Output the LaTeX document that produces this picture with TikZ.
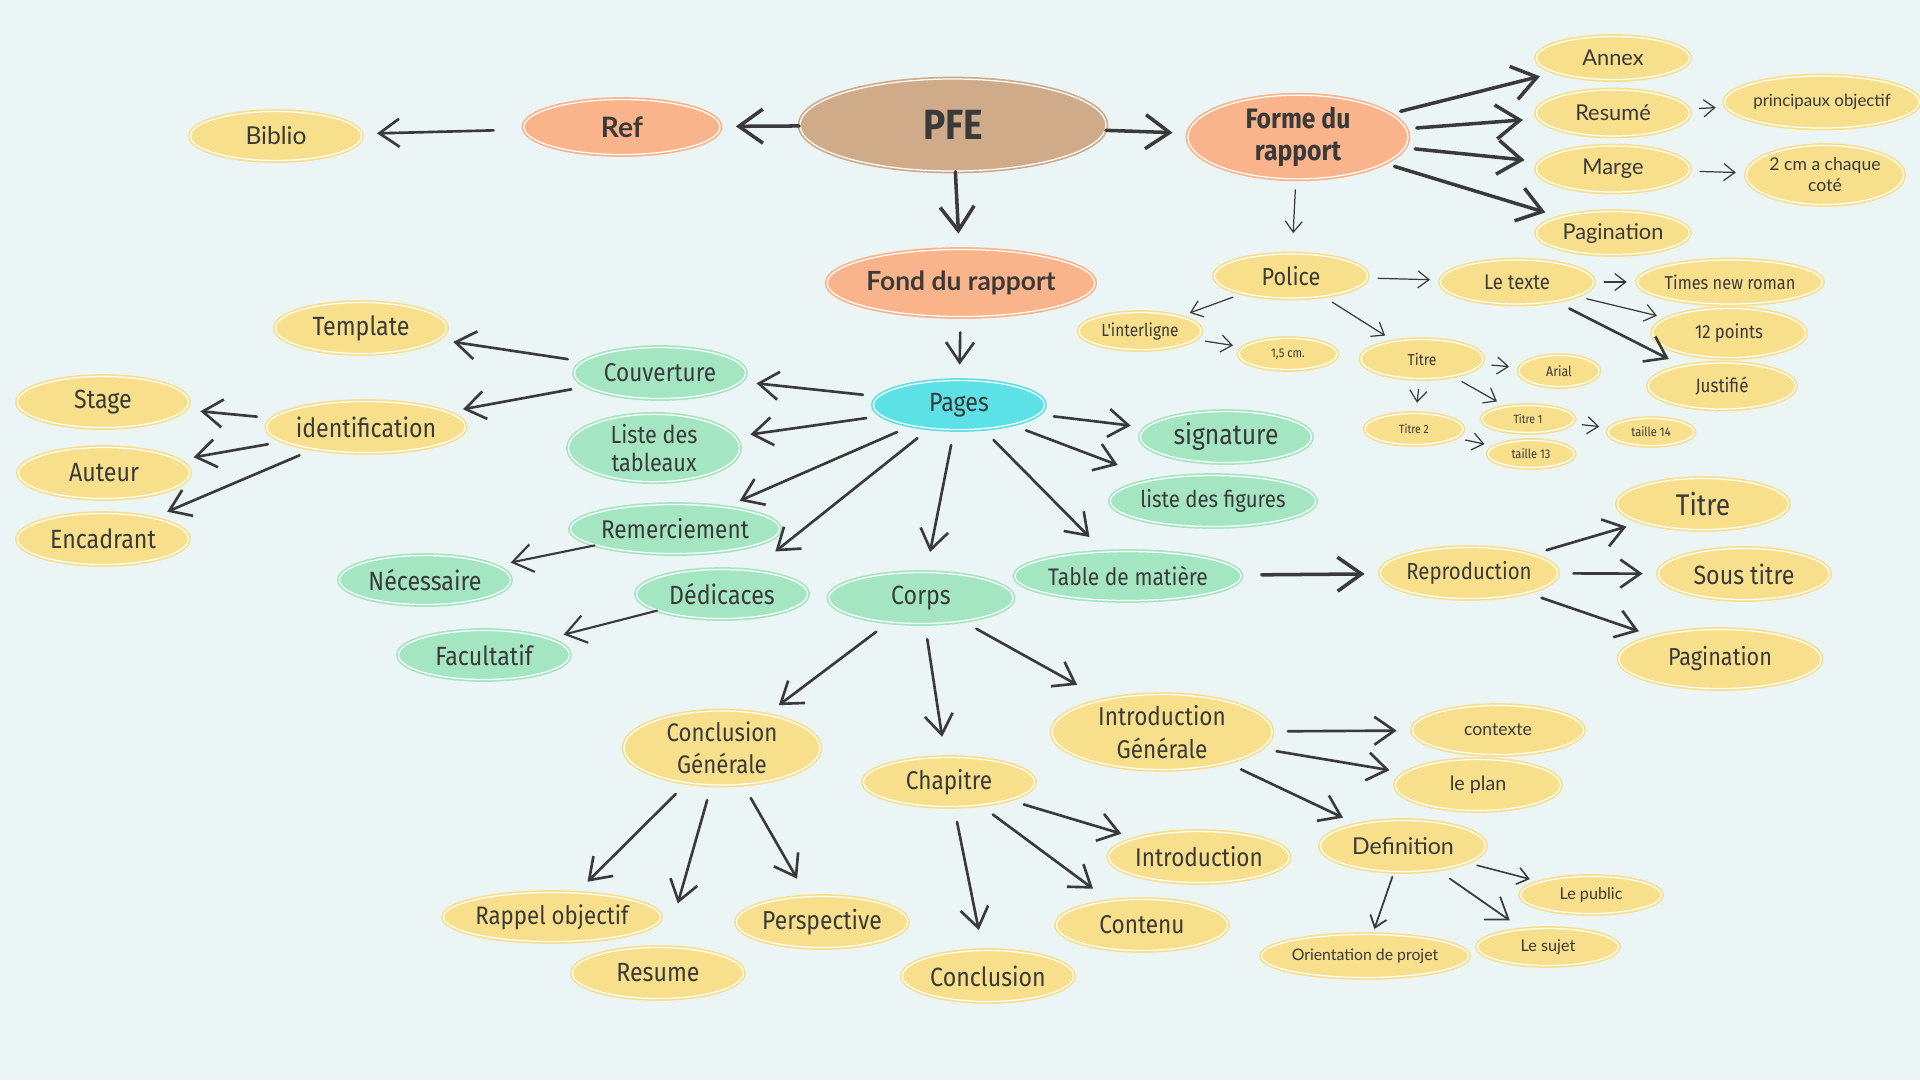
\documentclass[tikz,border=0pt]{standalone}
\usepackage{fontspec}
\setmainfont{Lato}
\newfontfamily\narrow[FakeStretch=0.88]{Fira Sans}
\usetikzlibrary{shapes.geometric,arrows.meta}
\definecolor{bgc}{HTML}{ECF5F5}
\definecolor{tan}{HTML}{CFAB8A}
\definecolor{sal}{HTML}{F9B48B}
\definecolor{yel}{HTML}{F7DF8B}
\definecolor{grn}{HTML}{A4E5C2}
\definecolor{cya}{HTML}{5CE1E6}
\definecolor{ink}{HTML}{3A3A3A}
\begin{document}
\begin{tikzpicture}[x=0.1mm,y=-0.1mm,line cap=round,
  bub/.style={ellipse,fill=#1,draw=#1,double=white,line width=.5pt,double distance=.35pt,inner sep=0pt,text=ink,align=center},
  sz/.style 2 args={minimum width=#1*0.1mm,minimum height=#2*0.1mm},
  fn/.style={font=\narrow\fontsize{#1}{#1}\selectfont},
  fr/.style={font=\fontsize{#1}{#1}\selectfont},
  fb/.style={font=\bfseries\fontsize{#1}{#1}\selectfont},
  fnb/.style={font=\narrow\bfseries\fontsize{#1}{#1}\selectfont},
  arrthick/.style={-{Straight Barb[length=2.4mm,width=3.4mm]},draw=ink,line width=1pt,shorten <=1mm,shorten >=1.5mm},
  arrmid/.style={-{Straight Barb[length=2mm,width=2.8mm]},draw=ink,line width=.75pt,shorten <=1.5mm,shorten >=1.5mm},
  arrthin/.style={-{Straight Barb[length=1.1mm,width=1.7mm]},draw=ink,line width=.35pt,shorten <=1mm,shorten >=1mm}]
  \fill[bgc] (0,0) rectangle (1920,1080);
  \useasboundingbox (0,0) rectangle (1920,1080);

  % centre
  \node[bub=tan,sz={306}{92},fnb=12] (pfe) at (953,125) {PFE};
  \node[bub=sal,sz={196}{55},fb=8] (ref) at (622,127) {Ref};
  \node[bub=yel,sz={171}{49},fr=7] (biblio) at (276,136) {Biblio};
  \node[bub=sal,sz={220}{71},fnb=8] (forme) at (1298,137) {Forme du\\[1pt]rapport};
  \node[bub=sal,sz={233}{67},fb=7.5] (fond) at (961,283) {Fond du rapport};
  \node[bub=cya,sz={171}{49},fn=7.5] (pages) at (959,405) {Pages};

  % forme du rapport
  \node[bub=yel,sz={153}{43},fr=6.2] (annex) at (1613,58) {Annex};
  \node[bub=yel,sz={153}{46},fr=6.2] (resume) at (1613,113) {Resumé};
  \node[bub=yel,sz={153}{46},fr=6.2] (marge) at (1613,169) {Marge};
  \node[bub=yel,sz={153}{43},fr=6.2] (pagtop) at (1613,233) {Pagination};
  \node[bub=yel,sz={171}{52},fr=4.8] (princ) at (1822,102) {principaux objectif};
  \node[bub=yel,sz={147}{59},fr=5] (deuxcm) at (1825,175) {2 cm a chaque\\[1pt]coté};
  \node[bub=yel,sz={153}{44},fn=7] (police) at (1291,276) {Police};
  \node[bub=yel,sz={153}{44},fn=6] (letexte) at (1517,282) {Le texte};
  \node[bub=yel,sz={153}{44},fn=5.3] (times) at (1730,282) {Times new roman};
  \node[bub=yel,sz={153}{49},fn=5.4] (douze) at (1729,333) {12 points};
  \node[bub=yel,sz={147}{46},fn=5.5] (justif) at (1722,386) {Justifié};
  \node[bub=yel,sz={122}{37},fn=5] (interl) at (1140,331) {L'interligne};
  \node[bub=yel,sz={98}{31},fn=3.6] (unvirg) at (1288,354) {1,5 cm.};
  \node[bub=yel,sz={122}{39},fn=4.5] (titrep) at (1422,359) {Titre};
  \node[bub=yel,sz={80}{31},fn=4] (arial) at (1559,371) {Arial};
  \node[bub=yel,sz={98}{31},fn=3.4] (titredeux) at (1414,429) {Titre 2};
  \node[bub=yel,sz={92}{27},fn=3.4] (titreun) at (1528,419) {Titre 1};
  \node[bub=yel,sz={86}{27},fn=3.6] (tquatorze) at (1651,432) {taille 14};
  \node[bub=yel,sz={86}{27},fn=3.6] (ttreize) at (1531,454) {taille 13};

  % pages
  \node[bub=grn,sz={171}{51},fn=7.3] (couv) at (660,373) {Couverture};
  \node[bub=yel,sz={171}{51},fn=7.5] (templ) at (361,328) {Template};
  \node[bub=yel,sz={171}{51},fn=7.5] (ident) at (366,427) {identification};
  \node[bub=yel,sz={171}{51},fn=7.5] (stage) at (103,402) {Stage};
  \node[bub=yel,sz={171}{51},fn=7.5] (auteur) at (104,473) {Auteur};
  \node[bub=yel,sz={171}{51},fn=7.5] (encad) at (103,539) {Encadrant};
  \node[bub=grn,sz={171}{55},fn=7] (tabl) at (654,448) {Liste des\\[1pt]tableaux};
  \node[bub=grn,sz={178}{49},fn=7.3] (remerc) at (675,529) {Remerciement};
  \node[bub=grn,sz={171}{49},fn=7.5] (necess) at (425,580) {Nécessaire};
  \node[bub=grn,sz={171}{49},fn=7.5] (dedic) at (722,594) {Dédicaces};
  \node[bub=grn,sz={171}{49},fn=7.5] (facult) at (484,655) {Facultatif};
  \node[bub=grn,sz={184}{51},fn=7.5] (corps) at (921,598) {Corps};
  \node[bub=grn,sz={171}{51},fn=8] (signat) at (1226,437) {signature};
  \node[bub=grn,sz={171}{51},fn=6.6] (figur) at (1213,501) {liste des figures};
  \node[bub=grn,sz={202}{49},fn=6.8] (tabmat) at (1128,576) {Table de matière};
  \node[bub=yel,sz={171}{51},fn=6.6] (repro) at (1469,573) {Reproduction};
  \node[bub=yel,sz={171}{51},fn=8.5] (titrer) at (1703,504) {Titre};
  \node[bub=yel,sz={171}{51},fn=7.5] (soustitre) at (1744,574) {Sous titre};
  \node[bub=yel,sz={202}{59},fn=7] (pagr) at (1720,659) {Pagination};

  % corps
  \node[bub=yel,sz={196}{61},fn=7.2] (concg) at (722,748) {Conclusion\\[2pt]Générale};
  \node[bub=yel,sz={171}{49},fn=7.3] (chap) at (949,782) {Chapitre};
  \node[bub=yel,sz={220}{64},fn=7.3] (introg) at (1162,732) {Introduction\\[2pt]Générale};
  \node[bub=yel,sz={171}{49},fr=5] (contexte) at (1498,730) {contexte};
  \node[bub=yel,sz={165}{51},fr=5.6] (plan) at (1478,785) {le plan};
  \node[bub=yel,sz={165}{51},fr=6.6] (defin) at (1403,846) {Definition};
  \node[bub=yel,sz={141}{37},fr=4.6] (public) at (1591,895) {Le public};
  \node[bub=yel,sz={141}{37},fr=4.6] (sujet) at (1548,947) {Le sujet};
  \node[bub=yel,sz={171}{43},fr=4.5] (orient) at (1365,956) {Orientation de projet};
  \node[bub=yel,sz={171}{51},fn=7.3] (intro) at (1199,857) {Introduction};
  \node[bub=yel,sz={171}{51},fn=7.3] (contenu) at (1142,925) {Contenu};
  \node[bub=yel,sz={171}{51},fn=7.5] (concl) at (988,976) {Conclusion};
  \node[bub=yel,sz={178}{49},fn=7.2] (rappel) at (552,917) {Rappel objectif};
  \node[bub=yel,sz={171}{51},fn=7.4] (persp) at (822,922) {Perspective};
  \node[bub=yel,sz={171}{51},fn=7.5] (resum) at (658,973) {Resume};

  % connectors
  \draw[arrthick,shorten <=0mm] (pfe) -- (ref);
  \draw[arrthick,shorten <=0mm] (pfe) -- (forme);
  \draw[arrthick,shorten <=0mm] (pfe) -- (fond);
  \draw[arrmid,shorten <=3mm] (ref) -- (biblio);
  \draw[arrthick] (forme) -- (annex);
  \draw[arrthick] (forme) -- (resume);
  \draw[arrthick] (forme) -- (marge);
  \draw[arrthick] (forme) -- (pagtop);
  \draw[arrthin] (resume) -- (princ);
  \draw[arrthin] (marge) -- (deuxcm);
  \draw[arrthin,shorten >=2mm] (forme) -- (police);
  \draw[arrthin] (police) -- (interl);
  \draw[arrthin,shorten <=1mm,shorten >=1mm] (police) -- (letexte);
  \draw[arrthin] (police) -- (titrep);
  \draw[arrthin] (interl) -- (unvirg);
  \draw[arrthin] (letexte) -- (times);
  \draw[arrthin] (letexte) -- (douze);
  \draw[arrmid] (letexte) -- (justif);
  \draw[arrthin] (titrep) -- (arial);
  \draw[arrthin] (titrep) -- (titredeux);
  \draw[arrthin] (titrep) -- (titreun);
  \draw[arrthin] (titreun) -- (tquatorze);
  \draw[arrthin] (titredeux) -- (ttreize);
  \draw[arrmid] (fond) -- (pages);

  \draw[arrmid] (pages) -- (couv);
  \draw[arrmid] (pages) -- (tabl);
  \draw[arrmid] (pages) -- (remerc);
  \draw[arrmid,shorten >=3mm] (pages) -- (dedic);
  \draw[arrmid,shorten >=2mm] (pages) -- (corps);
  \draw[arrmid,shorten >=2mm] (pages) -- (tabmat);
  \draw[arrmid,shorten >=4mm] (pages) -- (figur);
  \draw[arrmid] (pages) -- (signat);
  \draw[arrmid] (couv) -- (templ);
  \draw[arrmid] (couv) -- (ident);
  \draw[arrmid] (ident) -- (stage);
  \draw[arrmid] (ident) -- (auteur);
  \draw[arrmid] (ident) -- (encad);
  \draw[arrmid,line width=.6pt,shorten <=0mm] (remerc) -- (necess);
  \draw[arrmid,line width=.6pt,shorten <=0mm] (dedic) -- (facult);
  \draw[arrthick,shorten <=2mm] (tabmat) -- (repro);
  \draw[arrmid] (repro) -- (titrer);
  \draw[arrmid] (repro) -- (soustitre);
  \draw[arrmid] (repro) -- (pagr);

  \draw[arrmid] (corps) -- (concg);
  \draw[arrmid,shorten >=2mm] (corps) -- (chap);
  \draw[arrmid,shorten >=3mm] (corps) -- (introg);
  \draw[arrmid] (concg) -- (rappel);
  \draw[arrmid,shorten >=4.5mm] (concg) -- (resum);
  \draw[arrmid,shorten >=2mm] (concg) -- (persp);
  \draw[arrmid,shorten >=2mm] (chap) -- (concl);
  \draw[arrmid,shorten >=2mm] (chap) -- (contenu);
  \draw[arrmid] (chap) -- (intro);
  \draw[arrmid] (introg) -- (contexte);
  \draw[arrmid] (introg) -- (plan);
  \draw[arrmid] (introg) -- (defin);
  \draw[arrthin,line width=.5pt,shorten <=.5mm,shorten >=.5mm] (defin) -- (orient);
  \draw[arrmid,line width=.5pt] (defin) -- (sujet);
  \draw[arrthin,line width=.45pt] (defin) -- (public);
\end{tikzpicture}
\end{document}
